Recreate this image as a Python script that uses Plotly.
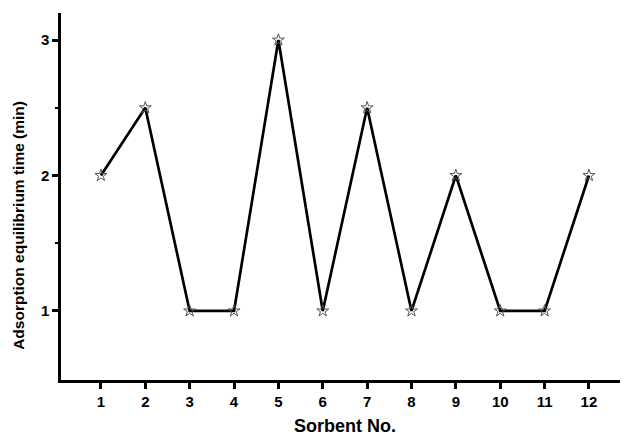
import plotly.graph_objects as go

sorbent = [1, 2, 3, 4, 5, 6, 7, 8, 9, 10, 11, 12]
eq_time = [2, 2.5, 1, 1, 3, 1, 2.5, 1, 2, 1, 1, 2]
y_ticks = [1, 2, 3]

fig = go.Figure()
fig.add_trace(go.Scatter(
    x=sorbent, y=eq_time, mode="lines+markers",
    line=dict(color="black", width=2.7),
    marker=dict(symbol="star-open", size=9, color="#555555", line=dict(width=1, color="#555555")),
    showlegend=False,
))

font_bold = "Liberation Sans"
fig.update_layout(
    width=620, height=426,
    margin=dict(l=53, r=0, t=5, b=54),
    plot_bgcolor="white", paper_bgcolor="white",
    font=dict(family=font_bold, color="black"),
    xaxis=dict(
        range=[0.1, 12.88], tickvals=sorbent, ticktext=[f"<b>{v}</b>" for v in sorbent],
        ticks="outside", ticklen=6, tickwidth=2.5, tickcolor="black",
        showline=True, linecolor="black", linewidth=2.5, showgrid=False, zeroline=False,
        tickfont=dict(size=15, family=font_bold), automargin=False,
    ),
    yaxis=dict(
        range=[0.49, 3.2], tickvals=y_ticks, ticktext=[f"<b>{v}</b>" for v in y_ticks],
        ticks="outside", ticklen=6, tickwidth=2.5, tickcolor="black",
        showline=True, linecolor="black", linewidth=2.5, showgrid=False, zeroline=False,
        tickfont=dict(size=15, family=font_bold), automargin=False,
        minor=dict(tickvals=[1.5, 2.5], ticks="outside", ticklen=3, tickwidth=2, tickcolor="black"),
    ),
    annotations=[
        dict(text="<b>Sorbent No.</b>", xref="paper", yref="paper", x=0.5, y=0,
             xanchor="center", yanchor="middle", yshift=-46, showarrow=False,
             font=dict(size=18, family=font_bold, color="black")),
        dict(text="<b>Adsorption equilibrium time (min)</b>", xref="paper", yref="paper",
             x=0, y=0.42, xanchor="center", yanchor="middle", xshift=-42, textangle=-90,
             showarrow=False, font=dict(size=15.5, family=font_bold, color="black")),
    ],
)
fig.write_html("out.html")
